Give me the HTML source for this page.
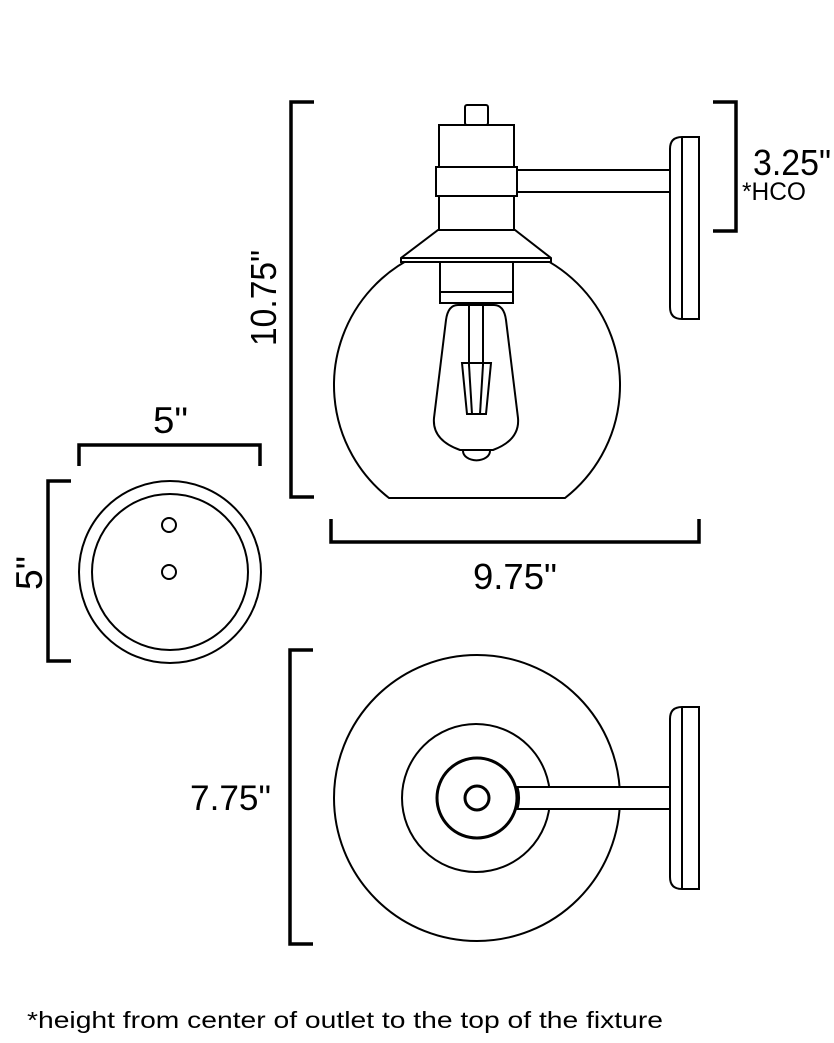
<!DOCTYPE html>
<html><head><meta charset="utf-8"><style>html,body{margin:0;padding:0;background:#fff}svg{display:block}</style></head>
<body>
<svg width="834" height="1043" viewBox="0 0 834 1043" xmlns="http://www.w3.org/2000/svg" font-family="Liberation Sans, sans-serif" fill="none" stroke="#000">
<!-- dimension brackets -->
<g stroke-width="3.5">
<polyline points="314,102 291,102 291,497 314,497"/>
<polyline points="713,102 736,102 736,231 713,231"/>
<polyline points="331,519 331,542 699,542 699,519"/>
<polyline points="79,466 79,445 260,445 260,466"/>
<polyline points="71,481 48,481 48,661 71,661"/>
<polyline points="313,650 290,650 290,944 313,944"/>
</g>
<!-- side view -->
<g stroke-width="2">
<path d="M389,498 A143,143 0 1 1 565,498 Z" fill="#fff"/>
<rect x="465" y="105" width="23" height="20" rx="2"/>
<rect x="439" y="125" width="75" height="105"/>
<rect x="436" y="167" width="81" height="29" fill="#fff"/>
<polygon points="438,230 515,230 551,258 551,262 401,262 401,258" fill="#fff"/>
<line x1="401" y1="258" x2="551" y2="258"/>
<rect x="440" y="262" width="73" height="41" fill="#fff"/>
<line x1="440" y1="292" x2="513" y2="292"/>
<path d="M458,305 Q448,305 446,320 L434,418 Q432,440 460,450 L493,450 Q520,440 518,418 L506,320 Q504,305 494,305 Z"/>
<path d="M463,451 A13,9 0 0 0 490,451"/>
<line x1="469" y1="303" x2="469" y2="365"/>
<line x1="483" y1="303" x2="483" y2="365"/>
<polygon points="462,363 491,363 486,414 467,414"/>
<line x1="469" y1="365" x2="472" y2="414"/>
<line x1="483" y1="365" x2="480" y2="414"/>
<rect x="517" y="170" width="153" height="22"/>
<path d="M682,137 L699,137 L699,319 L682,319 Q670,319 670,307 L670,149 Q670,137 682,137 Z"/>
<line x1="682" y1="137" x2="682" y2="319"/>
</g>
<!-- top view -->
<g stroke-width="2">
<circle cx="477" cy="798" r="143"/>
<circle cx="476" cy="798" r="74"/>
<circle cx="477" cy="798" r="40" stroke-width="3"/>
<circle cx="477" cy="798" r="12" stroke-width="3"/>
<rect x="517" y="787" width="153" height="22" fill="#fff"/>
<path d="M517,787 A40,40 0 0 1 517,809" stroke-width="3"/>
<path d="M682,707 L699,707 L699,889 L682,889 Q670,889 670,877 L670,719 Q670,707 682,707 Z"/>
<line x1="682" y1="707" x2="682" y2="889"/>
</g>
<!-- backplate view -->
<g stroke-width="2">
<circle cx="170" cy="572" r="91"/>
<circle cx="170" cy="572" r="78"/>
<circle cx="169" cy="525" r="7"/>
<circle cx="169" cy="572" r="7"/>
</g>
<!-- text -->
<g fill="#000" stroke="none">
<text x="153" y="433" font-size="37" textLength="35" lengthAdjust="spacingAndGlyphs">5"</text>
<text transform="translate(42,590) rotate(-90)" font-size="37" textLength="34" lengthAdjust="spacingAndGlyphs">5"</text>
<text transform="translate(276,346) rotate(-90)" font-size="36" textLength="96" lengthAdjust="spacingAndGlyphs">10.75"</text>
<text x="473" y="589" font-size="36" textLength="84" lengthAdjust="spacingAndGlyphs">9.75"</text>
<text x="190" y="810" font-size="35" textLength="81" lengthAdjust="spacingAndGlyphs">7.75"</text>
<text x="753" y="175" font-size="36" textLength="78" lengthAdjust="spacingAndGlyphs">3.25"</text>
<text x="742" y="200" font-size="25" textLength="64" lengthAdjust="spacingAndGlyphs">*HCO</text>
<text x="27" y="1028" font-size="23" textLength="636" lengthAdjust="spacingAndGlyphs">*height from center of outlet to the top of the fixture</text>
</g>
</svg>
</body></html>
